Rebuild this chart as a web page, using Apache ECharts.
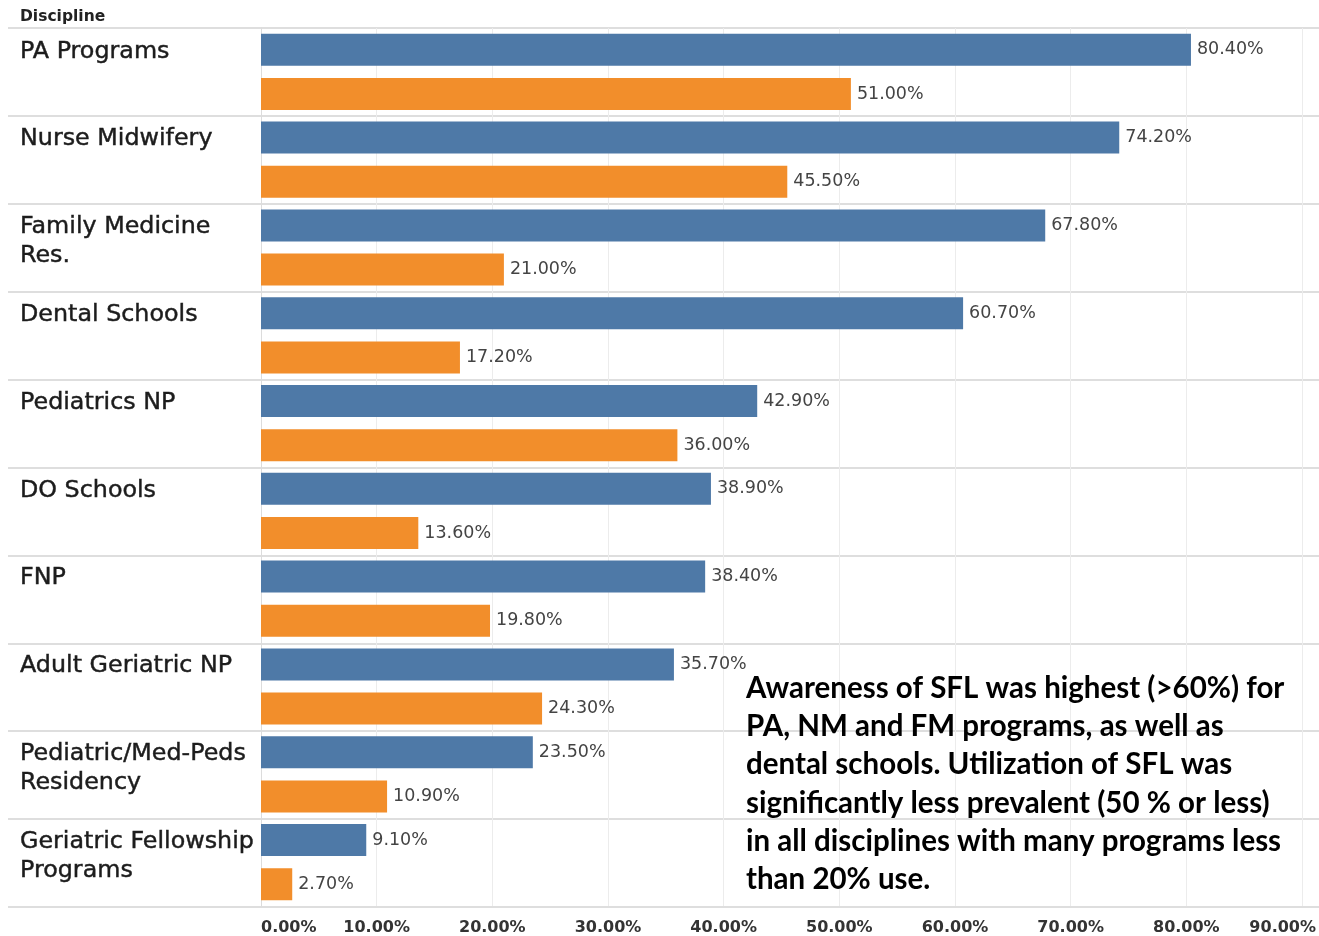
<!DOCTYPE html>
<html>
<head>
<meta charset="utf-8">
<script src="https://cdn.jsdelivr.net/npm/echarts@6/dist/echarts.min.js"></script>
<style>
  html, body { margin: 0; padding: 0; background: #fff; }
  #chart { width: 1319px; height: 936px; }
</style>
</head>
<body>
<div id="chart"></div>
<script>
// Disciplines, top to bottom
const categories = [
  'PA Programs',
  'Nurse Midwifery',
  'Family Medicine\nRes.',
  'Dental Schools',
  'Pediatrics NP',
  'DO Schools',
  'FNP',
  'Adult Geriatric NP',
  'Pediatric/Med-Peds\nResidency',
  'Geriatric Fellowship\nPrograms'
];
// Percent of programs aware of SFL (blue) and using it (orange)
const awareness   = [80.4, 74.2, 67.8, 60.7, 42.9, 38.9, 38.4, 35.7, 23.5, 9.1];
const utilization = [51.0, 45.5, 21.0, 17.2, 36.0, 13.6, 19.8, 24.3, 10.9, 2.7];
// Value axis ticks
const axisMin = 0;
const axisMax = 90;
const axisStep = 10;

const note = [
  'Awareness of SFL was highest (>60%) for',
  'PA, NM and FM programs, as well as',
  'dental schools. Utilization of SFL was',
  'significantly less prevalent (50 % or less)',
  'in all disciplines with many programs less',
  'than 20% use.'
].join('\n');

const FONT = 'DejaVu Sans';
const pct = v => v.toFixed(2) + '%';

const chart = echarts.init(document.getElementById('chart'), null, { renderer: 'canvas' });

chart.setOption({
  animation: false,
  backgroundColor: '#ffffff',
  title: {
    text: 'Discipline',
    left: 20, top: 9, padding: 0,
    textStyle: { fontFamily: FONT, fontSize: 15.5, fontWeight: 'bold', color: '#222' }
  },
  grid: [
    // full-width row bands (separators across label column and plot)
    { left: 8, right: 0, top: 28, bottom: 29 },
    // bar plot
    { left: 261, right: 16, top: 28, bottom: 29 }
  ],
  xAxis: [
    { gridIndex: 0, type: 'value', min: 0, max: 1, show: false },
    {
      gridIndex: 1, type: 'value', min: axisMin, max: axisMax, interval: axisStep,
      axisLine: { show: false }, axisTick: { show: false },
      splitLine: { show: true, lineStyle: { color: '#ececec', width: 1 } },
      axisLabel: {
        margin: 14,
        fontFamily: FONT, fontSize: 16, fontWeight: 'bold', color: '#333',
        alignMinLabel: 'left', alignMaxLabel: 'right',
        formatter: v => v === axisMax ? '{last|' + pct(v) + '}' : pct(v),
        rich: {
          last: {
            fontFamily: FONT, fontSize: 16, fontWeight: 'bold', color: '#333',
            padding: [0, -14, 0, 0]
          }
        }
      }
    }
  ],
  yAxis: [
    {
      gridIndex: 0, type: 'category', data: categories, inverse: true,
      axisLine: { show: false }, axisTick: { show: false }, axisLabel: { show: false },
      splitLine: { show: true, interval: 0, lineStyle: { color: '#d3d3d3', width: 1.5 } }
    },
    {
      gridIndex: 1, type: 'category', data: categories, inverse: true,
      axisLine: { show: true, lineStyle: { color: '#dcdcdc', width: 1 } },
      axisTick: { show: false },
      splitLine: { show: false },
      axisLabel: {
        interval: 0,
        margin: 241,
        align: 'left',
        verticalAlign: 'top',
        padding: [-35, 0, 0, 0],
        lineHeight: 29,
        fontFamily: FONT, fontSize: 23.8, color: '#1c1c1c',
        textBorderColor: '#1c1c1c', textBorderWidth: 0.45
      }
    }
  ],
  series: [
    {
      name: 'Awareness', type: 'bar', xAxisIndex: 1, yAxisIndex: 1,
      data: awareness, barWidth: 32, barGap: '38%',
      itemStyle: { color: '#4e79a7' },
      label: {
        show: true, position: 'right', distance: 6,
        fontFamily: FONT, fontSize: 17.5, color: '#444',
        formatter: p => pct(p.value)
      }
    },
    {
      name: 'Utilization', type: 'bar', xAxisIndex: 1, yAxisIndex: 1,
      data: utilization, barWidth: 32, barGap: '38%',
      itemStyle: { color: '#f28e2b' },
      label: {
        show: true, position: 'right', distance: 6,
        fontFamily: FONT, fontSize: 17.5, color: '#444',
        formatter: p => pct(p.value)
      }
    }
  ],
  graphic: [
    {
      type: 'text', left: 746, top: 669, z: 10,
      style: {
        text: note,
        font: 'bold 29.5px Lato',
        lineHeight: 38.3,
        fill: '#000'
      }
    }
  ]
});
</script>
</body>
</html>
